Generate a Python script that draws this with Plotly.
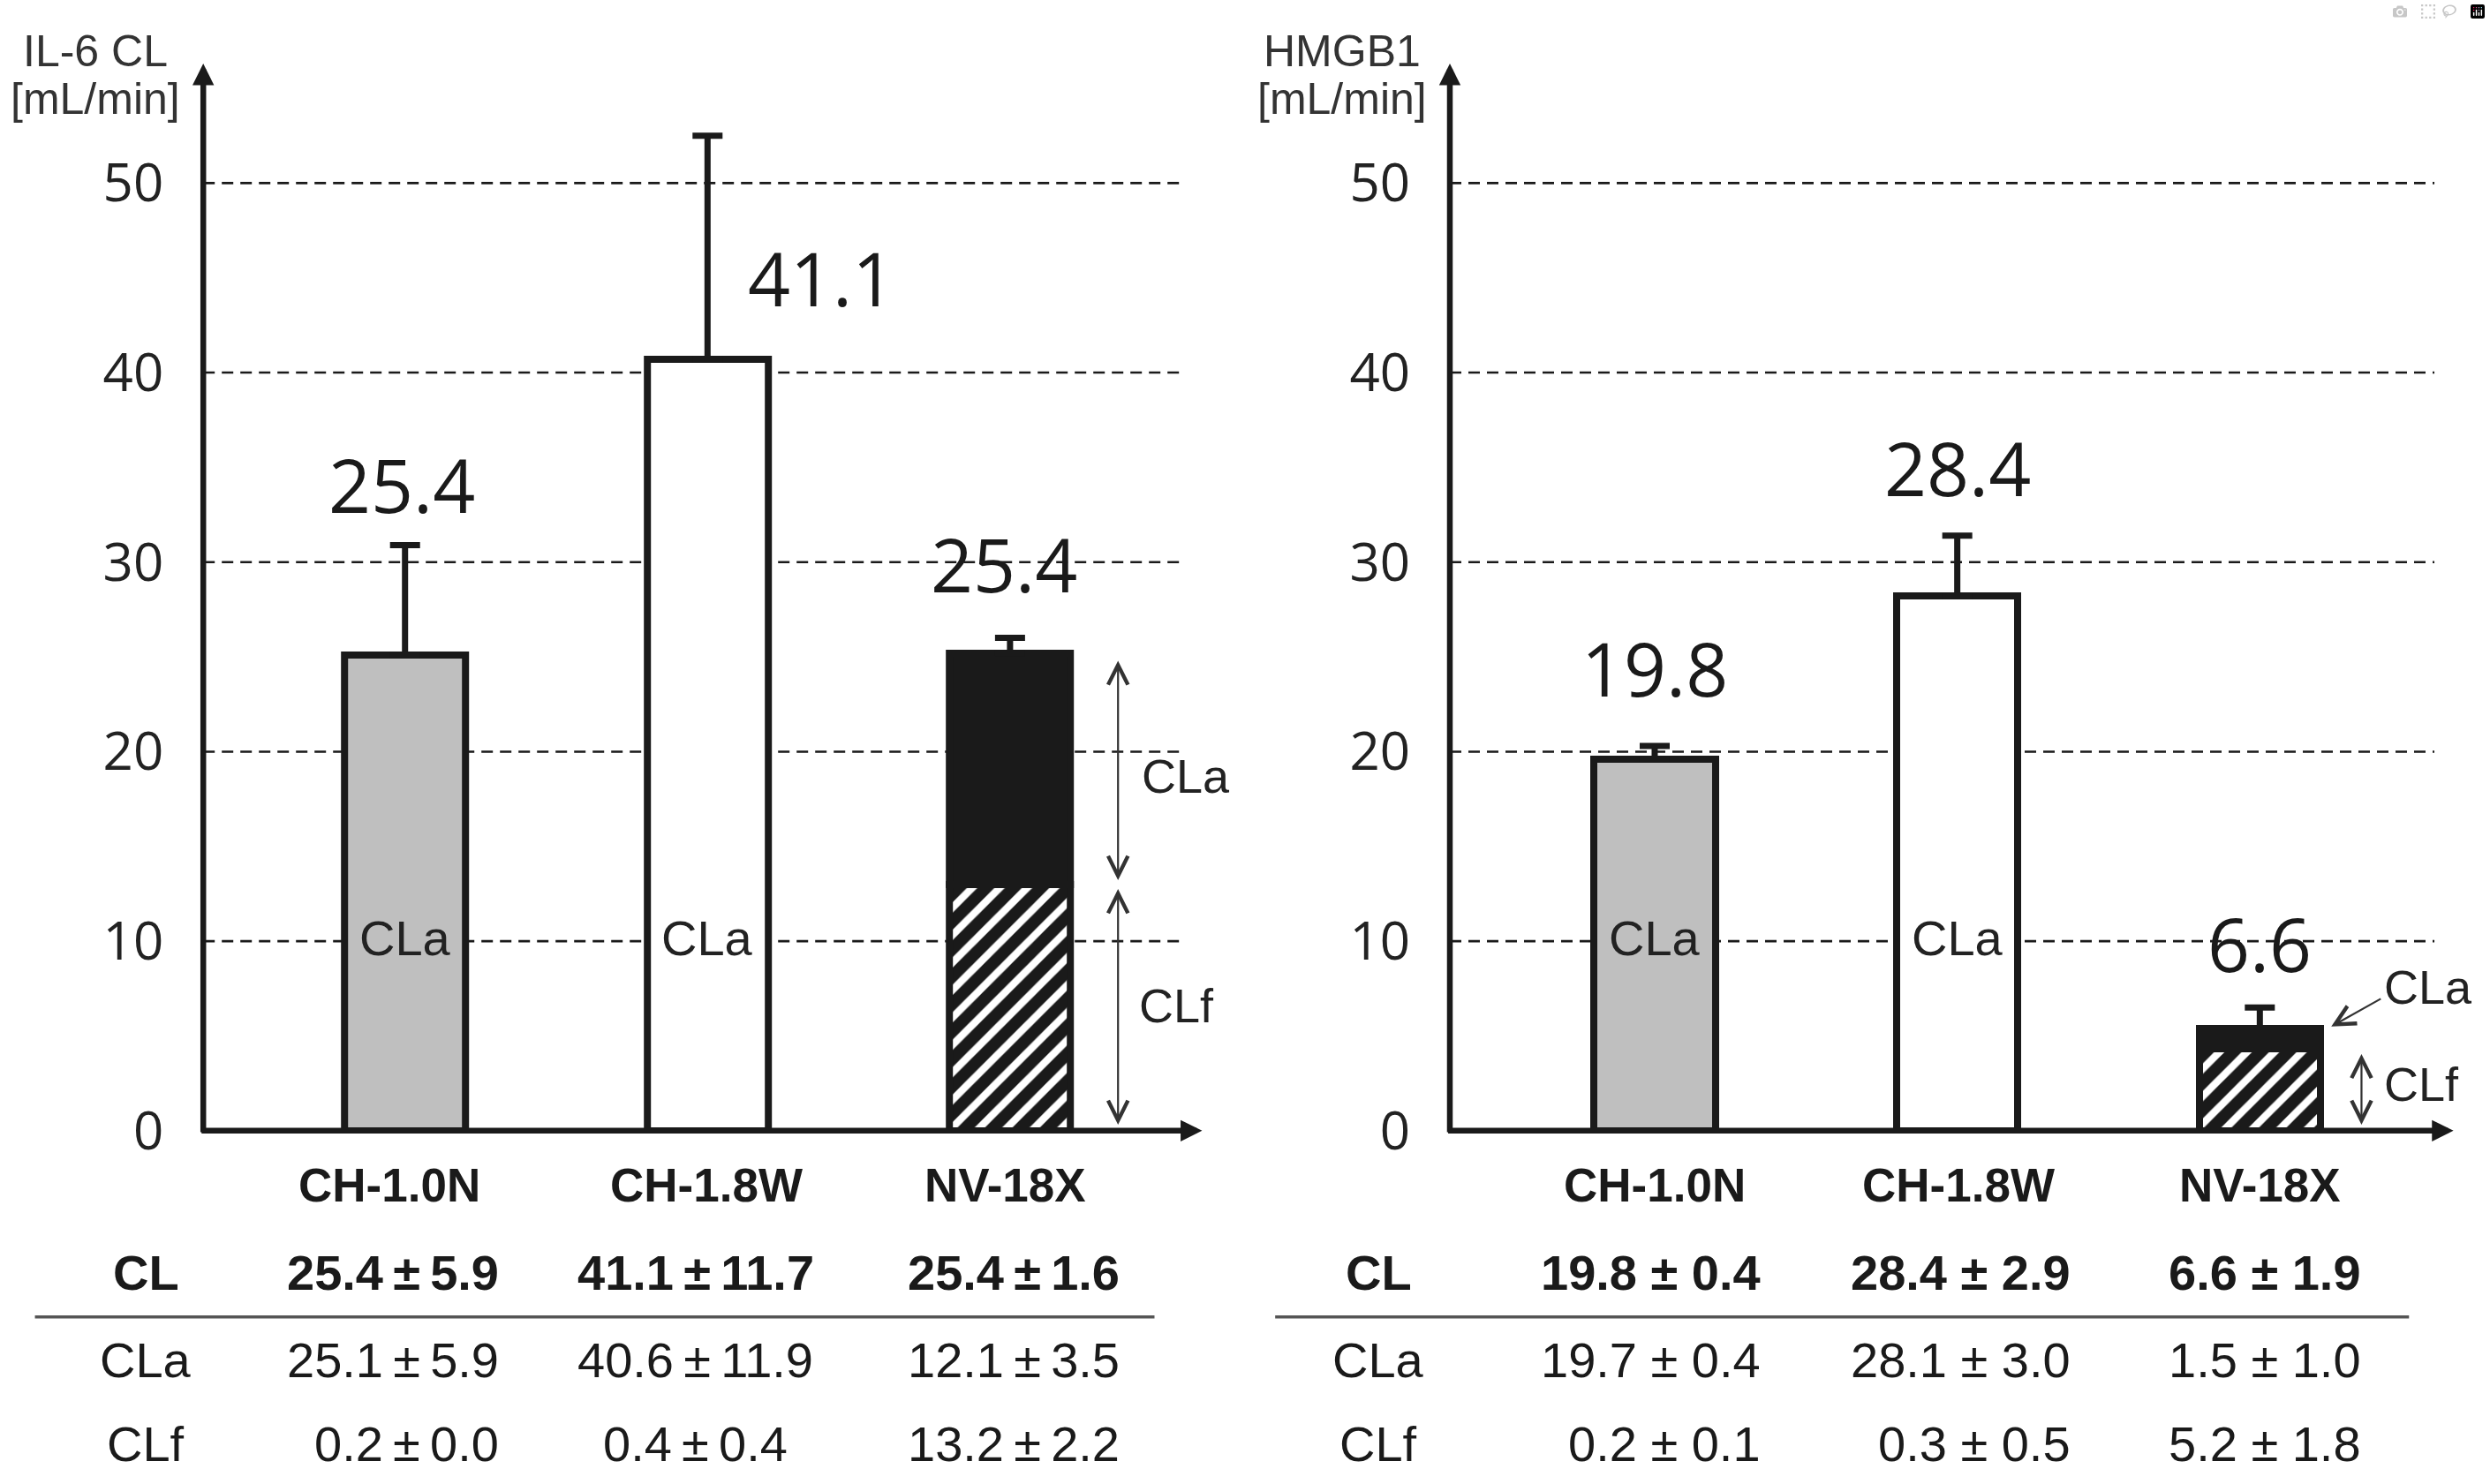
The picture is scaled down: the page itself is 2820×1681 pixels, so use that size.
import plotly.graph_objects as go

# ---------------- data ----------------
categories = ["CH-1.0N", "CH-1.8W", "NV-18X"]
row_names = ["CL", "CLa", "CLf"]
y_ticks = [0, 10, 20, 30, 40, 50]

# IL-6 panel
il6_value_labels = ["25.4", "41.1", "25.4"]
il6_cla_bar = [25.1, 40.7, 12.2]      # upper / whole bar height
il6_clf_bar = [0.0, 0.0, 13.0]        # hatched lower part
il6_err = [5.8, 11.8, 0.8]
il6_table_cl = ["25.4±5.9", "41.1±11.7", "25.4±1.6"]
il6_table_cla = ["25.1±5.9", "40.6±11.9", "12.1±3.5"]
il6_table_clf = ["0.2±0.0", "0.4±0.4", "13.2±2.2"]

# HMGB1 panel
hmgb1_value_labels = ["19.8", "28.4", "6.6"]
hmgb1_cla_bar = [19.6, 28.2, 1.1]
hmgb1_clf_bar = [0.0, 0.0, 4.3]
hmgb1_err = [0.7, 3.2, 1.1]
hmgb1_table_cl = ["19.8 ± 0.4", "28.4 ± 2.9", "6.6 ± 1.9"]
hmgb1_table_cla = ["19.7 ± 0.4", "28.1 ± 3.0", "1.5 ± 1.0"]
hmgb1_table_clf = ["0.2 ± 0.1", "0.3 ± 0.5", "5.2 ± 1.8"]

# ---------------- layout helpers ----------------
W, H = 2820, 1727
DW, DH = 1568.0, 937.0   # measuring grid of the reference (display units)


def px(d):
    return d / DW


def py(d):
    return 1 - d / DH


def spaced(s):
    # the reference renders a wide plus-minus sign
    return s.replace("±", "\u2009±\u2009") if " " not in s else s


BLACK = "#1a1a1a"
TXT = "#222222"
GRAY = "#bfbfbf"
bar_colors = [GRAY, "#ffffff", BLACK]
NUM_FONT = "Open Sans, Noto Sans, sans-serif"
TAB_FONT = "Liberation Sans, Arial, sans-serif"

YMAX = 56.3
panels = [
    dict(xa="x", ya="y", x0=-0.667, x1=2.635, gx1=2.572,
         cla=il6_cla_bar, clf=il6_clf_bar, err=il6_err, labels=il6_value_labels,
         lab_pos=[(-0.01, 34.1), (1.375, 45.0), (1.98, 29.9)],
         title=["IL-6 CL", "[mL/min]"], title_x=60,
         tab=[il6_table_cl, il6_table_cla, il6_table_clf],
         cat_x=[245, 445, 633],
         cols=[(315, "right"), (438, "center"), (706, "right")],
         row_x=92, sep=(22, 727)),
    dict(xa="x2", ya="y2", x0=-0.677, x1=2.64, gx1=2.577,
         cla=hmgb1_cla_bar, clf=hmgb1_clf_bar, err=hmgb1_err, labels=hmgb1_value_labels,
         lab_pos=[(0.0, 24.4), (1.0, 35.0), (2.0, 9.9)],
         title=["HMGB1", "[mL/min]"], title_x=845,
         tab=[hmgb1_table_cl, hmgb1_table_cla, hmgb1_table_clf],
         cat_x=[1042, 1233, 1423],
         cols=[(1110, "right"), (1305, "right"), (1488, "right")],
         row_x=868, sep=(803, 1517)),
]

fig = go.Figure()
shapes = []
annotations = []
xpos = [0, 1, 2]


def ann(**kw):
    kw.setdefault("xanchor", "center")
    kw.setdefault("yanchor", "middle")
    kw.setdefault("showarrow", False)
    annotations.append(kw)


for p in panels:
    xa, ya = p["xa"], p["ya"]
    # hatched CLf part (NV-18X)
    fig.add_trace(go.Bar(
        x=xpos, y=p["clf"], width=0.40, xaxis=xa, yaxis=ya,
        marker=dict(color=BLACK, line=dict(color=BLACK, width=8),
                    pattern=dict(shape="/", fgcolor="#ffffff", bgcolor=BLACK,
                                 size=22, solidity=0.38, fillmode="replace")),
        showlegend=False, hoverinfo="skip"))
    # CLa / whole bars
    fig.add_trace(go.Bar(
        x=xpos, y=p["cla"], base=p["clf"], width=0.40, xaxis=xa, yaxis=ya,
        marker=dict(color=bar_colors, line=dict(color=BLACK, width=8)),
        showlegend=False, hoverinfo="skip"))
    totals = [a + b for a, b in zip(p["cla"], p["clf"])]
    fig.add_trace(go.Scatter(
        x=xpos, y=totals, mode="markers", xaxis=xa, yaxis=ya,
        marker=dict(size=1, opacity=0),
        error_y=dict(type="data", array=p["err"], arrayminus=[0, 0, 0],
                     symmetric=False, thickness=7, width=17, color=BLACK),
        showlegend=False, hoverinfo="skip"))

    # dashed gridlines
    for t in y_ticks[1:]:
        shapes.append(dict(type="line", xref=xa, yref=ya, x0=p["x0"], x1=p["gx1"],
                           y0=t, y1=t, layer="below",
                           line=dict(color=BLACK, width=2.6, dash="13px,8px")))
    # axes with arrow heads
    ann(xref=xa, yref=ya, axref=xa, ayref=ya, x=p["x0"], y=YMAX, ax=p["x0"], ay=-0.15,
        text="", showarrow=True, arrowhead=2, arrowsize=0.75, arrowwidth=6.5,
        arrowcolor=BLACK, standoff=0)
    ann(xref=xa, yref=ya, axref=xa, ayref=ya, x=p["x1"], y=0, ax=p["x0"] - 0.01, ay=0,
        text="", showarrow=True, arrowhead=2, arrowsize=0.75, arrowwidth=6.5,
        arrowcolor=BLACK, standoff=0)
    # value labels
    for lab, (lx, ly) in zip(p["labels"], p["lab_pos"]):
        ann(xref=xa, yref=ya, x=lx, y=ly, text=lab,
            font=dict(family=NUM_FONT, size=84, color=BLACK))
    # "CLa" inside CH bars
    for i in (0, 1):
        ann(xref=xa, yref=ya, x=i, y=10.15, text="CLa",
            font=dict(family=TAB_FONT, size=56, color=TXT))
    # axis title
    ann(xref="paper", yref="paper", x=px(p["title_x"]), y=py(32), text=p["title"][0],
        font=dict(family=TAB_FONT, size=50, color="#333333"))
    ann(xref="paper", yref="paper", x=px(p["title_x"]), y=py(62), text=p["title"][1],
        font=dict(family=TAB_FONT, size=50, color="#333333"))
    # category labels
    for c, cx in zip(categories, p["cat_x"]):
        ann(xref="paper", yref="paper", x=px(cx), y=py(745), text="<b>%s</b>" % c,
            font=dict(family=TAB_FONT, size=53, color=BLACK))
    # table
    row_y = [800, 855, 908]
    for r, (name, vals) in enumerate(zip(row_names, p["tab"])):
        fmt = "<b>%s</b>" if r == 0 else "%s"
        ann(xref="paper", yref="paper", x=px(p["row_x"]), y=py(row_y[r]), text=fmt % name,
            font=dict(family=TAB_FONT, size=56, color=BLACK))
        for v, (cx, anc) in zip(vals, p["cols"]):
            ann(xref="paper", yref="paper", x=px(cx), y=py(row_y[r]), xanchor=anc,
                text=fmt % spaced(v), font=dict(family=TAB_FONT, size=56, color=BLACK))
    shapes.append(dict(type="line", xref="paper", yref="paper",
                       x0=px(p["sep"][0]), x1=px(p["sep"][1]), y0=py(828), y1=py(828),
                       line=dict(color="#555555", width=3.5)))

# IL-6 NV-18X CLa / CLf double arrows
for (ytop, ybot) in [(24.8, 13.15), (12.75, 0.25)]:
    ann(xref="x", yref="y", axref="x", ayref="y", x=2.357, y=ytop, ax=2.357, ay=ybot,
        text="", showarrow=True, arrowhead=5, startarrowhead=5, arrowside="end+start",
        arrowsize=2.0, startarrowsize=2.0, arrowwidth=2.2, arrowcolor="#333333",
        standoff=0, startstandoff=0)
ann(xref="x", yref="y", x=2.58, y=18.7, text="CLa", font=dict(family=TAB_FONT, size=54, color=TXT))
ann(xref="x", yref="y", x=2.55, y=6.6, text="CLf", font=dict(family=TAB_FONT, size=54, color=TXT))

# HMGB1 NV-18X annotations
ann(xref="x2", yref="y2", axref="x2", ayref="y2", x=2.336, y=4.05, ax=2.336, ay=0.25,
    text="", showarrow=True, arrowhead=5, startarrowhead=5, arrowside="end+start",
    arrowsize=2.0, startarrowsize=2.0, arrowwidth=2.2, arrowcolor="#333333",
    standoff=0, startstandoff=0)
ann(xref="x2", yref="y2", axref="x2", ayref="y2", x=2.236, y=5.5, ax=2.404, ay=7.0,
    text="", showarrow=True, arrowhead=5, arrowsize=2.0, arrowwidth=2.2,
    arrowcolor="#333333", standoff=0)
ann(xref="x2", yref="y2", x=2.555, y=7.6, text="CLa", font=dict(family=TAB_FONT, size=54, color=TXT))
ann(xref="x2", yref="y2", x=2.535, y=2.45, text="CLf", font=dict(family=TAB_FONT, size=54, color=TXT))

ydom = [py(711), py(40)]
axis_common = dict(showgrid=False, zeroline=False, showline=False, ticks="",
                   showticklabels=False, fixedrange=True)
yaxis_common = dict(range=[0, YMAX], domain=ydom, showgrid=False, zeroline=False,
                    showline=False, ticks="", tickvals=y_ticks,
                    tickfont=dict(family=NUM_FONT, size=60, color=TXT),
                    ticklabelstandoff=44, fixedrange=True)

fig.update_layout(
    width=W, height=H, autosize=False,
    margin=dict(l=0, r=0, t=0, b=0, pad=0),
    paper_bgcolor="#ffffff", plot_bgcolor="rgba(0,0,0,0)",
    barmode="overlay", bargap=0,
    xaxis=dict(domain=[px(128), px(757)], range=[panels[0]["x0"], panels[0]["x1"]], **axis_common),
    xaxis2=dict(domain=[px(913), px(1545)], range=[panels[1]["x0"], panels[1]["x1"]], **axis_common),
    yaxis=dict(anchor="x", **yaxis_common),
    yaxis2=dict(anchor="x2", **yaxis_common),
    shapes=shapes, annotations=annotations,
    showlegend=False,
)

fig.write_html("out.html",
               post_script="document.body.style.margin='0';document.body.style.overflow='hidden';")
